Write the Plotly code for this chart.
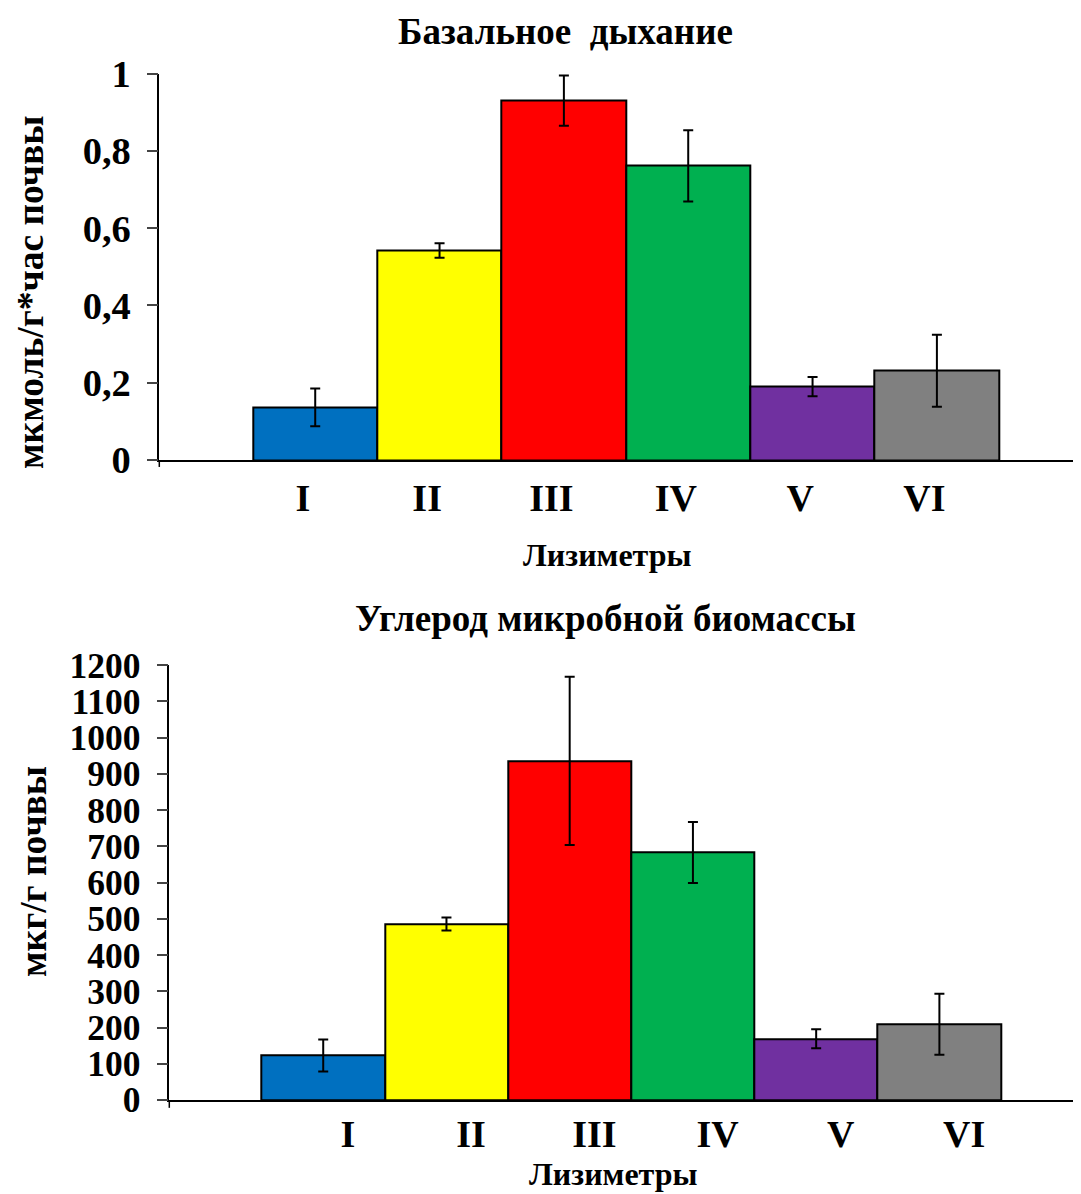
import plotly.graph_objects as go

# ---- data ----
categories = ["I", "II", "III", "IV", "V", "VI"]
bar_colors = ["#0070C0", "#FFFF00", "#FF0000", "#00B050", "#7030A0", "#808080"]

resp_values = [0.136, 0.542, 0.930, 0.761, 0.190, 0.231]
resp_errors = [0.049, 0.019, 0.065, 0.092, 0.025, 0.093]
resp_ticks = [0, 0.2, 0.4, 0.6, 0.8, 1.0]
resp_ticktext = ["0", "0,2", "0,4", "0,6", "0,8", "1"]

biom_values = [123, 486, 936, 683, 169, 209]
biom_errors = [44, 18, 232, 84, 26, 84]
biom_ticks = [0, 100, 200, 300, 400, 500, 600, 700, 800, 900, 1000, 1100, 1200]
biom_ticktext = [str(v) for v in biom_ticks]

title_top = "Базальное  дыхание"
title_bottom = "Углерод микробной биомассы"
ytitle_top = "мкмоль/г*час почвы"
ytitle_bottom = "мкг/г почвы"
xtitle = "Лизиметры"

FONT = "Liberation Serif, Times New Roman, serif"
OFF = 8                      # default page margin of the html body
W, H = 1081 - OFF, 1194 - OFF

xpos = list(range(1, len(categories) + 1))

fig = go.Figure()

fig.add_trace(go.Bar(
    x=xpos, y=resp_values, width=1,
    marker=dict(color=bar_colors, line=dict(color="black", width=2)),
    error_y=dict(type="data", array=resp_errors, color="black", thickness=2, width=5),
    xaxis="x", yaxis="y", showlegend=False,
))
fig.add_trace(go.Bar(
    x=xpos, y=biom_values, width=1,
    marker=dict(color=bar_colors, line=dict(color="black", width=2)),
    error_y=dict(type="data", array=biom_errors, color="black", thickness=2, width=5),
    xaxis="x2", yaxis="y2", showlegend=False,
))

def px_x(p):
    return (p - OFF) / W

def px_y(p):
    return 1 - (p - OFF) / H

tickfont_top = dict(family=FONT, size=38.5, color="black", weight="bold")
tickfont_bot = dict(family=FONT, size=35.5, color="black", weight="bold")
catfont = dict(family=FONT, size=38, color="black", weight="bold")

common = dict(showgrid=False, zeroline=False, automargin=False,
              showline=True, linecolor="black", linewidth=1.5)

fig.update_layout(
    width=W, height=H,
    margin=dict(l=0, r=0, t=0, b=0, pad=0),
    paper_bgcolor="white", plot_bgcolor="white",
    bargap=0,
    xaxis=dict(
        domain=[px_x(159.3), 1], range=[-0.254, 7.159], anchor="y",
        ticks="", tickvals=[v - 0.1 for v in xpos], ticktext=categories,
        tickfont=catfont, ticklabelstandoff=4, **common,
    ),
    yaxis=dict(
        domain=[px_y(460), px_y(73.5)], range=[0, 1], anchor="x",
        ticks="outside", ticklen=11, tickcolor="#444", tickwidth=1.5,
        tickvals=resp_ticks, ticktext=resp_ticktext,
        tickfont=tickfont_top, ticklabelstandoff=8, **common,
    ),
    xaxis2=dict(
        domain=[px_x(169.3), 1], range=[-0.249, 7.149], anchor="y2",
        ticks="", tickvals=[v + 0.2 for v in xpos], ticktext=categories,
        tickfont=catfont, ticklabelstandoff=0, **common,
    ),
    yaxis2=dict(
        domain=[px_y(1100), px_y(665.2)], range=[0, 1200], anchor="x2",
        ticks="outside", ticklen=11, tickcolor="#444", tickwidth=1.5,
        tickvals=biom_ticks, ticktext=biom_ticktext,
        tickfont=tickfont_bot, ticklabelstandoff=9, **common,
    ),
)

# small tick below the origin of each category axis
for xr, yr in (("x domain", "y domain"), ("x2 domain", "y2 domain")):
    fig.add_shape(type="line", xref=xr, yref=yr, x0=0, x1=0, y0=0, y1=-0.018,
                  line=dict(color="black", width=1.5))

titlefont = dict(family=FONT, size=37, color="black", weight="bold")
axfont = dict(family=FONT, size=32, color="black", weight="bold")
yaxfont = dict(family=FONT, size=37.5, color="black", weight="bold")

anns = [
    dict(text=title_top, x=px_x(565), y=px_y(32), font=titlefont),
    dict(text=title_bottom, x=px_x(605), y=px_y(618), font=titlefont),
    dict(text=xtitle, x=px_x(607), y=px_y(555), font=axfont),
    dict(text=xtitle, x=px_x(613), y=px_y(1174), font=axfont),
    dict(text=ytitle_top, x=px_x(30), y=px_y(292), font=yaxfont, textangle=-90),
    dict(text=ytitle_bottom, x=px_x(33), y=px_y(872), font=yaxfont, textangle=-90),
]
for a in anns:
    fig.add_annotation(xref="paper", yref="paper", showarrow=False,
                       xanchor="center", yanchor="middle", **a)

fig.write_html("out.html")
